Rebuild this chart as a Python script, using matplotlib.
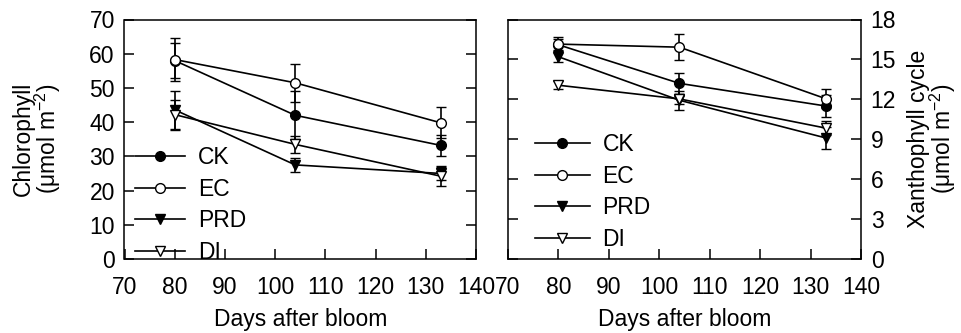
import matplotlib
matplotlib.use("Agg")
import matplotlib.pyplot as plt

plt.rcParams['font.family'] = ['Liberation Sans', 'DejaVu Sans']
plt.rcParams['mathtext.fontset'] = 'custom'
plt.rcParams['mathtext.rm'] = 'Liberation Sans'
plt.rcParams['mathtext.it'] = 'Liberation Sans'

days = [80, 104, 133]
series = ['CK', 'EC', 'PRD', 'DI']

chl_CK = [58.0, 42.0, 33.2]
chl_EC = [58.3, 51.5, 39.8]
chl_PRD = [43.6, 27.5, 25.0]
chl_DI = [42.2, 33.5, 24.2]
chl_CK_err = [5.0, 7.0, 3.0]
chl_EC_err = [6.3, 5.6, 4.5]
chl_PRD_err = [5.5, 2.0, 2.0]
chl_DI_err = [4.4, 2.5, 3.0]

xan_CK = [16.1, 13.2, 11.5]
xan_EC = [16.15, 15.92, 12.05]
xan_PRD = [15.2, 11.93, 9.1]
xan_DI = [13.06, 12.03, 9.84]
xan_CK_err = [0.4, 0.8, 0.8]
xan_EC_err = [0.5, 1.0, 0.7]
xan_PRD_err = [0.4, 0.7, 0.85]
xan_DI_err = [0.3, 0.4, 0.5]

x_ticks = [70, 80, 90, 100, 110, 120, 130, 140]
chl_ticks = [0, 10, 20, 30, 40, 50, 60, 70]
xan_ticks = [0, 3, 6, 9, 12, 15, 18]

styles = {
    'CK': dict(marker='o', mfc='black'),
    'EC': dict(marker='o', mfc='white'),
    'PRD': dict(marker='v', mfc='black'),
    'DI': dict(marker='v', mfc='white'),
}

FS = 16.5
W, H = 961, 333
fig = plt.figure(figsize=(W / 100, H / 100), dpi=100)
ax1 = fig.add_axes([124.5 / W, (H - 259) / H, 351.5 / W, 239.5 / H])
ax2 = fig.add_axes([508 / W, (H - 259) / H, 353 / W, 239.5 / H])

chl = {'CK': (chl_CK, chl_CK_err), 'EC': (chl_EC, chl_EC_err),
       'PRD': (chl_PRD, chl_PRD_err), 'DI': (chl_DI, chl_DI_err)}
xan = {'CK': (xan_CK, xan_CK_err), 'EC': (xan_EC, xan_EC_err),
       'PRD': (xan_PRD, xan_PRD_err), 'DI': (xan_DI, xan_DI_err)}

for ax, data in ((ax1, chl), (ax2, xan)):
    for name in series:
        vals, err = data[name]
        st = styles[name]
        ax.errorbar(days, vals, yerr=err, color='black', lw=1.2,
                    marker=st['marker'], mfc=st['mfc'], mec='black',
                    mew=1.0, ms=7, capsize=3.5, elinewidth=1.2, capthick=1.2,
                    label=name)
    ax.set_xlim(70, 140)
    ax.set_xticks(x_ticks)
    ax.set_xlabel('Days after bloom', fontsize=FS, labelpad=7)
    for s in ax.spines.values():
        s.set_linewidth(1.1)
    ax.tick_params(direction='in', length=7, width=1.1, labelsize=FS,
                   left=True, right=True, top=False, bottom=True, pad=7)
    ax.tick_params(axis='x', pad=12)

ax1.set_ylim(0, 70)
ax1.set_yticks(chl_ticks)
ax1.tick_params(axis='y', labelleft=True, labelright=False)
ax1.set_ylabel('Chlorophyll\n(\u03bcmol m$^{-2}$)', fontsize=FS, labelpad=19,
               linespacing=0.9)

ax2.set_ylim(0, 18)
ax2.set_yticks(xan_ticks)
ax2.tick_params(axis='y', labelleft=False, labelright=True)
ax2.yaxis.set_label_position('right')
ax2.set_ylabel('Xanthophyll cycle\n(\u03bcmol m$^{-2}$)', fontsize=FS,
               labelpad=8, linespacing=0.9)

leg_kw = dict(frameon=False, fontsize=FS, handletextpad=0.55,
              labelspacing=0.37, borderpad=0, borderaxespad=0, numpoints=1)
h1, l1 = ax1.get_legend_handles_labels()
ax1.legend([h[0] for h in h1], l1, loc='lower left', handlelength=2.2,
           bbox_to_anchor=(0.03, -0.019), **leg_kw)
h2, l2 = ax2.get_legend_handles_labels()
ax2.legend([h[0] for h in h2], l2, loc='lower left', handlelength=2.4,
           bbox_to_anchor=(0.076, 0.034), **leg_kw)

fig.savefig('out.png', dpi=100)
